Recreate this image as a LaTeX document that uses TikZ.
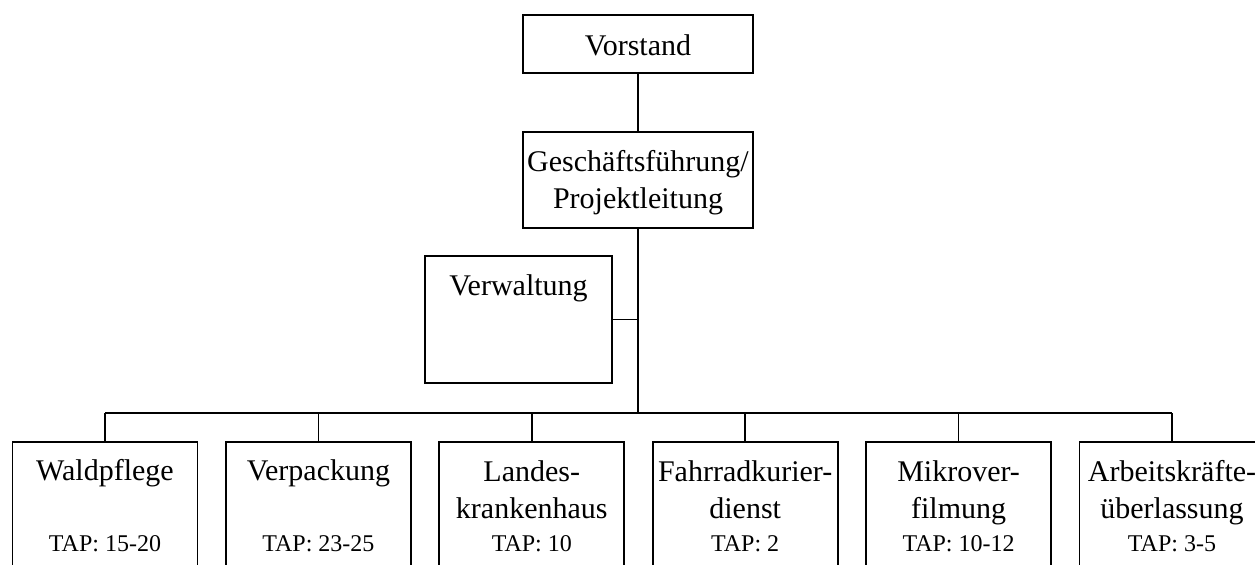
\documentclass[tikz,border=0pt]{standalone}
\usepackage{fontspec}
\setmainfont{Liberation Serif}
\usetikzlibrary{positioning}

\begin{document}
\begin{tikzpicture}[
  x=0.5pt, y=-0.5pt,
  font=\fontsize{15}{18.5}\selectfont,
  unit/.style={
    rectangle, draw, line width=0.9pt, inner sep=0pt,
    minimum width=92.5pt, minimum height=69pt
  },
  head/.style={rectangle, draw, line width=0.9pt, inner sep=0pt, minimum width=115pt},
  label/.style={anchor=base, align=center, inner sep=0pt},
  tap/.style={anchor=base, inner sep=0pt, font=\fontsize{12}{14}\selectfont},
  link/.style={line width=0.75pt},
]
\clip (0,0) rectangle (1255,564);
\useasboundingbox (0,0) rectangle (1255,564);

% --- Leadership, top to bottom ---------------------------------------------
\node[head, minimum height=29pt] (vor) at (638,44)  {};
\node[label] at (638,55) {Vorstand};
\node[head, minimum height=48pt] (gf)  at (638,180) {};
\node[label] at (638,208) {Geschäftsführung/\\Projektleitung};

% --- Staff unit ---------------------------------------------------------------
\node[head, minimum width=93.5pt, minimum height=63.5pt] (verw) at (518.5,319.5) {};
\node[label] at (518.5,295) {Verwaltung};

% --- Trunk and bus ------------------------------------------------------------
\coordinate (bus) at (639,413);
\draw[link] (vor.south) -- (gf.north);
\draw[link] (gf.south) -- (gf.south |- bus);
\draw[link] (verw.east) -- (verw.east -| gf.south);

% --- Work areas (last line of the name sits at \ny) ------------------------
\foreach \i/\name/\ny/\nr in {
    1/Waldpflege/480/15-20,
    2/Verpackung/480/23-25,
    3/{Landes-\\krankenhaus}/518/10,
    4/{Fahrradkurier-\\dienst}/518/2,
    5/{Mikrover-\\filmung}/518/10-12,
    6/{Arbeitskräfte-\\überlassung}/518/3-5}
{
  \pgfmathsetmacro{\cx}{105 + (\i-1)*213.4}
  \node[unit] (u\i) at (\cx,511) {};
  \node[label] at (\cx,\ny) {\name};
  \node[tap]   at (\cx,551) {TAP: \nr};
  \draw[link] (u\i.north) -- (u\i.north |- bus);
}
\draw[link] (u1.north |- bus) -- (u6.north |- bus);

\end{tikzpicture}
\end{document}
